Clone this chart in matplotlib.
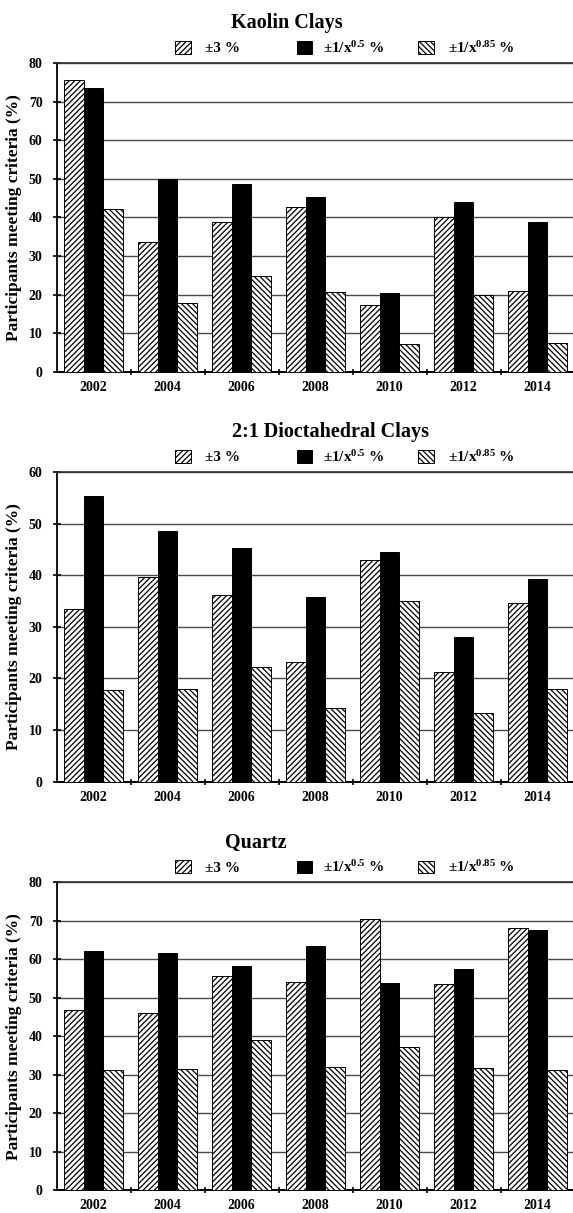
import numpy as np
import matplotlib
matplotlib.use("Agg")
import matplotlib.pyplot as plt
from matplotlib.patches import Patch

plt.rcParams['font.family'] = ['Liberation Serif', 'DejaVu Serif']
plt.rcParams['font.weight'] = 'bold'
plt.rcParams['mathtext.fontset'] = 'custom'
plt.rcParams['mathtext.rm'] = 'Liberation Serif:bold'
plt.rcParams['mathtext.default'] = 'rm'
plt.rcParams['hatch.linewidth'] = 0.9

years = ['2002', '2004', '2006', '2008', '2010', '2012', '2014']
criteria = ['±3 %', '±1/x$^{0.5}$ %', '±1/x$^{0.85}$ %']

kaolin_3pct = [75.7, 33.6, 38.9, 42.7, 17.3, 40.0, 20.9]
kaolin_x05 = [73.4, 50.0, 48.6, 45.2, 20.4, 43.9, 38.7]
kaolin_x085 = [42.2, 17.7, 24.9, 20.6, 7.2, 20.0, 7.4]

dioct_3pct = [33.4, 39.6, 36.2, 23.1, 42.9, 21.3, 34.7]
dioct_x05 = [55.4, 48.5, 45.3, 35.7, 44.5, 28.1, 39.3]
dioct_x085 = [17.8, 18.0, 22.3, 14.3, 35.0, 13.3, 18.0]

quartz_3pct = [46.7, 46.0, 55.7, 54.0, 70.5, 53.5, 68.2]
quartz_x05 = [62.2, 61.7, 58.2, 63.5, 53.9, 57.4, 67.7]
quartz_x085 = [31.2, 31.4, 39.0, 31.9, 37.1, 31.8, 31.3]

titles = ['Kaolin Clays', '2:1 Dioctahedral Clays', 'Quartz']
ymaxes = [80, 60, 80]

W, H = 573, 1213
fig = plt.figure(figsize=(W / 100, H / 100), dpi=100)

# panel geometry in pixels (top, bottom) and title centres
tops = [63.0, 472.0, 882.3]
bottoms = [371.7, 781.7, 1190.0]
title_x = [286.7, 331.0, 256.0]
left_px, cat_px = 56.5, 74.0
key_x = [175.0, 296.7, 418.3]
key_pad = [0.93, 0.7, 0.9]

hatches = ['//////', None, '\\\\\\\\\\\\']
faces = ['white', 'black', 'white']
series = [
    (kaolin_3pct, kaolin_x05, kaolin_x085),
    (dioct_3pct, dioct_x05, dioct_x085),
    (quartz_3pct, quartz_x05, quartz_x085),
]

x = np.arange(len(years))
bw = 0.266

for p in range(3):
    top, bot = tops[p], bottoms[p]
    ax = fig.add_axes([left_px / W, 1 - bot / H,
                       cat_px * len(years) / W, (bot - top) / H])
    for k, vals in enumerate(series[p]):
        ax.bar(x + (k - 1) * bw, vals, bw, facecolor=faces[k],
               edgecolor='black', linewidth=0.7, hatch=hatches[k], zorder=3)

    ax.set_xlim(-0.5, len(years) - 0.5)
    ax.set_ylim(0, ymaxes[p])
    ax.set_yticks(np.arange(0, ymaxes[p] + 1, 10))
    ax.yaxis.grid(True, color='#4a4a4a', linewidth=1.0, zorder=0)
    ax.set_axisbelow(True)

    # boundary ticks between groups, year labels on minor ticks
    ax.set_xticks(np.arange(0.5, len(years) - 1, 1.0))
    ax.set_xticklabels([])
    ax.set_xticks(x, minor=True)
    ax.set_xticklabels(years, minor=True, fontsize=10, fontweight='bold')
    ax.tick_params(axis='x', which='major', direction='inout', length=5, width=1.2)
    ax.tick_params(axis='x', which='minor', length=0, pad=6.5)
    ax.tick_params(axis='y', direction='inout', length=6, width=1.2, pad=7,
                   labelsize=10)

    ax.spines['right'].set_visible(False)
    ax.spines['top'].set_color('#303030')
    ax.spines['top'].set_linewidth(1.2)
    ax.spines['left'].set_linewidth(1.3)
    ax.spines['bottom'].set_linewidth(1.4)

    ax.set_ylabel('Participants meeting criteria (%)', fontsize=12.5,
                  fontweight='bold', labelpad=5)

    fig.text(title_x[p] / W, 1 - (top - 34.7) / H, titles[p],
             ha='center', va='baseline', fontsize=14.5, fontweight='bold')

    # one key entry per criterion, laid out across the top
    for k in range(3):
        h = Patch(facecolor=faces[k], edgecolor='black', linewidth=0.7,
                  hatch=hatches[k])
        leg = fig.legend([h], [criteria[k]], loc='center left',
                         bbox_to_anchor=(key_x[k] / W, 1 - (top - 15) / H),
                         frameon=False, fontsize=11, handlelength=1.03,
                         handleheight=0.92, handletextpad=key_pad[k],
                         borderpad=0, borderaxespad=0)
        for t in leg.get_texts():
            t.set_fontweight('bold')

fig.savefig('out.png', dpi=100)
